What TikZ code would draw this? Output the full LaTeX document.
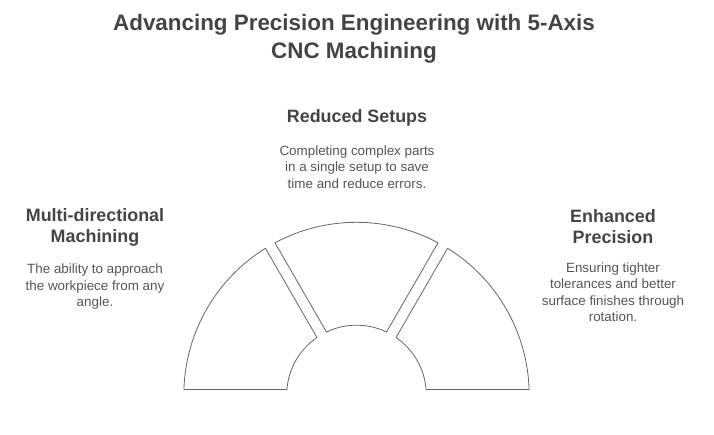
\documentclass[tikz,border=0pt]{standalone}
\usepackage{fontspec}
\setmainfont{Liberation Sans}
\usetikzlibrary{calc}
\definecolor{headc}{HTML}{444444}
\definecolor{bodyc}{HTML}{555555}
\definecolor{linec}{HTML}{666666}
\tikzset{
  segline/.style={draw=linec, line width=0.8pt, fill=white, line join=round},
  titletext/.style={font=\bfseries\fontsize{22.4}{28}\selectfont, text=headc, align=center, inner sep=0pt},
  headtext/.style={font=\bfseries\fontsize{17.9}{21}\selectfont, text=headc, align=center, inner sep=0pt},
  bodytext/.style={font=\fontsize{13.4}{16.5}\selectfont, text=bodyc, align=center, inner sep=0pt},
}
\begin{document}
\begin{tikzpicture}[x=1pt,y=1pt]
\useasboundingbox (0,0) rectangle (714,434);
\coordinate (c) at (356.5,39);
\def\RR{172.7}
\def\rr{69.8}
\def\dR{1.825}
\def\dr{4.52}
\foreach \aa/\bb/\nm in {0/60/segR, 60/120/segM, 120/180/segL}{
  \draw[segline] ($(c)+({\aa+\dR}:\RR)$) arc[start angle={\aa+\dR}, end angle={\bb-\dR}, radius=\RR]
    -- ($(c)+({\bb-\dr}:\rr)$) arc[start angle={\bb-\dr}, end angle={\aa+\dr}, radius=\rr] -- cycle;
}
\node[titletext] (title) at (354,395) {Advancing Precision Engineering with 5-Axis\\CNC Machining};
\node[headtext] (h2) at (357,316) {Reduced Setups};
\node[bodytext] (b2) at (357,267) {Completing complex parts\\in a single setup to save\\time and reduce errors.};
\node[headtext] (h1) at (95,206.5) {Multi-directional\\Machining};
\node[bodytext] (b1) at (95,147) {The ability to approach\\the workpiece from any\\angle.};
\node[headtext] (h3) at (613,207.5) {Enhanced\\Precision};
\node[bodytext] (b3) at (613,142) {Ensuring tighter\\tolerances and better\\surface finishes through\\rotation.};
\end{tikzpicture}
\end{document}
